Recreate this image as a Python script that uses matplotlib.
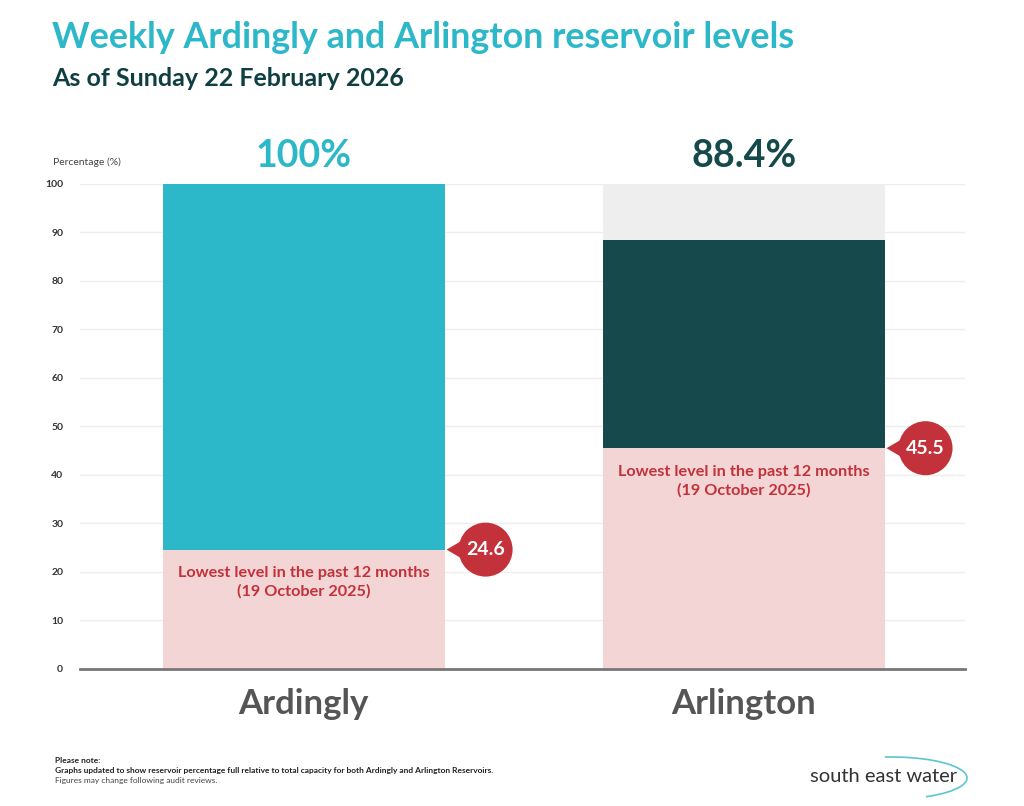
import matplotlib.pyplot as plt
import matplotlib.transforms as mtransforms
from matplotlib.patches import Circle, Polygon, Arc

plt.rcParams['font.family'] = ['Lato', 'DejaVu Sans']

# data
reservoirs = ["Ardingly", "Arlington"]
current = [100, 88.4]
lowest = [24.6, 45.5]
current_labels = ["100%", "88.4%"]
lowest_text = "Lowest level in the past 12 months\n(19 October 2025)"

teal = '#2cb8c8'
dark = '#15494b'
pink = '#f3d5d5'
grey_empty = '#eeeeee'
red = '#c3313a'
bar_colors = [teal, dark]
label_colors = [teal, dark]

fig = plt.figure(figsize=(10.24, 8.06), dpi=100)
ax = fig.add_axes([0.078, 0.170, 0.864, 0.602])

x = list(range(len(reservoirs)))
bar_width = 0.64

# capacity, current level, lowest level
ax.bar(x, [100] * len(x), width=bar_width, color=grey_empty, zorder=2)
ax.bar(x, current, width=bar_width, color=bar_colors, zorder=3)
ax.bar(x, lowest, width=bar_width, color=pink, zorder=4)

ax.set_xlim(-0.509, 1.502)
ax.set_ylim(0, 100)
ax.set_yticks(range(0, 101, 10))
ax.tick_params(axis='y', length=0, pad=12, labelsize=7.5, labelcolor='#333333')
for t in ax.get_yticklabels():
    t.set_fontweight('bold')
ax.set_xticks(x)
ax.set_xticklabels(reservoirs, fontsize=25, fontweight='bold', color='#555555')
ax.tick_params(axis='x', length=0, pad=14)

ax.grid(axis='y', color='#eeeeee', linewidth=1, zorder=0)
ax.set_axisbelow(True)
for s in ['top', 'right', 'left']:
    ax.spines[s].set_visible(False)
ax.spines['bottom'].set_color('#777777')
ax.spines['bottom'].set_linewidth(2)
ax.spines['bottom'].set_zorder(5)

# labels
for i in x:
    ax.annotate(current_labels[i], xy=(i, 100), xytext=(0, 8), textcoords='offset points',
                ha='center', va='bottom', fontsize=27, fontweight='bold',
                color=label_colors[i], annotation_clip=False)
    ax.annotate(lowest_text, xy=(i, lowest[i]), xytext=(0, -12), textcoords='offset points',
                ha='center', va='top', fontsize=11.7, fontweight='bold', color=red,
                linespacing=1.35, zorder=6)

    # callout bubble
    trans = fig.dpi_scale_trans + mtransforms.ScaledTranslation(i + bar_width / 2, lowest[i], ax.transData)
    r = 0.27
    cx = 0.41
    ax.add_patch(Polygon([(0.02, 0), (cx - 0.05, 0.2), (cx - 0.05, -0.2)], closed=True,
                         facecolor=red, edgecolor='none', transform=trans, clip_on=False, zorder=7))
    ax.add_patch(Circle((cx, 0), r, facecolor=red, edgecolor='none', transform=trans,
                        clip_on=False, zorder=7))
    ax.text(cx, 0, f"{lowest[i]:.1f}", transform=trans, ha='center', va='center',
            fontsize=14, fontweight='bold', color='white', zorder=8)

ax.text(-0.03, 1.045, "Percentage (%)", transform=ax.transAxes, fontsize=7.5, color='#444444',
        ha='left', va='center')

# titles
fig.text(0.051, 0.953, "Weekly Ardingly and Arlington reservoir levels", fontsize=25.8,
         fontweight='bold', color='#2cb8c8', ha='left', va='center')
fig.text(0.051, 0.903, "As of Sunday 22 February 2026", fontsize=18,
         fontweight='bold', color='#0f3f42', ha='left', va='center')

# footer
fig.text(0.054, 0.056, "Please note:", fontsize=6, fontweight='bold', color='#222222', va='center')
fig.text(0.054, 0.044, "Graphs updated to show reservoir percentage full relative to total capacity "
         "for both Ardingly and Arlington Reservoirs.", fontsize=6, fontweight='bold',
         color='#222222', va='center')
fig.text(0.054, 0.032, "Figures may change following audit reviews.", fontsize=6,
         color='#444444', va='center')

# logo
fig.text(0.791, 0.037, "south east water", fontsize=14.5, color='#333333', va='center', ha='left')
fig.add_artist(Arc((892 / 1024, 1 - 778 / 806), 150 / 1024, 42 / 806, theta1=-35, theta2=105,
                   transform=fig.transFigure, color='#5cc6d0', linewidth=1.2))

fig.savefig('out.png', dpi=100, facecolor='white')
